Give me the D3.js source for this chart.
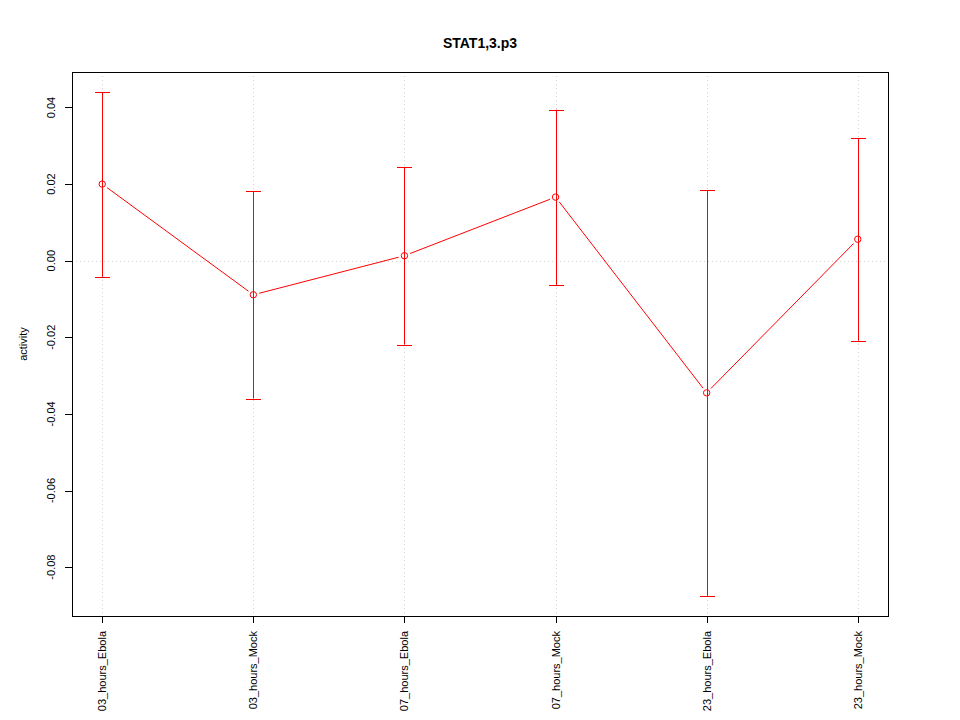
<!DOCTYPE html>
<html>
<head>
<meta charset="utf-8">
<script src="https://cdn.jsdelivr.net/npm/d3@7"></script>
<style>
  body { margin: 0; background: #fff; }
  svg text { font-family: "Liberation Sans", Arial, Helvetica, sans-serif; }
</style>
</head>
<body>
<svg id="chart" width="960" height="720"></svg>
<script>
const categories = ["03_hours_Ebola", "03_hours_Mock", "07_hours_Ebola", "07_hours_Mock", "23_hours_Ebola", "23_hours_Mock"];
const values = [0.0200, -0.0089, 0.0013, 0.0166, -0.0345, 0.0056];
const upper = [0.0440, 0.0181, 0.0245, 0.0394, 0.0184, 0.0320];
const lower = [-0.0042, -0.0360, -0.0219, -0.0064, -0.0875, -0.0209];
const yTicks = [-0.08, -0.06, -0.04, -0.02, 0.00, 0.02, 0.04];
const yTickLabels = ["-0.08", "-0.06", "-0.04", "-0.02", "0.00", "0.02", "0.04"];
const title = "STAT1,3.p3";
const yTitle = "activity";

const svg = d3.select("#chart");
const L = 72, R = 888, T = 72, B = 616;
const red = "#ff0000";

const n = categories.length;
const x = d3.scaleLinear().domain([1 - 0.04 * (n - 1), n + 0.04 * (n - 1)]).range([L, R]);
const yMin = d3.min(lower), yMax = d3.max(upper);
const pad = (yMax - yMin) * 0.04;
const y = d3.scaleLinear().domain([yMin - pad, yMax + pad]).range([B, T]);

// grid
const grid = svg.append("g").attr("stroke", "#d3d3d3").attr("stroke-dasharray", "1,3").attr("stroke-width", 1);
categories.forEach((c, i) => {
  grid.append("line").attr("x1", Math.round(x(i + 1)) + 0.5).attr("x2", Math.round(x(i + 1)) + 0.5)
    .attr("y1", T).attr("y2", B);
});
grid.append("line").attr("x1", L).attr("x2", R)
  .attr("y1", Math.round(y(0)) + 0.5).attr("y2", Math.round(y(0)) + 0.5);

// error bars
const eb = svg.append("g").attr("stroke", red).attr("stroke-width", 1);
categories.forEach((c, i) => {
  const cx = Math.round(x(i + 1)) + 0.5;
  eb.append("line").attr("x1", cx).attr("x2", cx).attr("y1", y(upper[i])).attr("y2", y(lower[i]));
  eb.append("line").attr("x1", cx - 7.5).attr("x2", cx + 7.5).attr("y1", Math.round(y(upper[i])) + 0.5).attr("y2", Math.round(y(upper[i])) + 0.5);
  eb.append("line").attr("x1", cx - 7.5).attr("x2", cx + 7.5).attr("y1", Math.round(y(lower[i])) + 0.5).attr("y2", Math.round(y(lower[i])) + 0.5);
});

// connecting lines with gaps (type "b")
const gap = 6;
const ln = svg.append("g").attr("stroke", red).attr("stroke-width", 1);
for (let i = 0; i < n - 1; i++) {
  const x1 = x(i + 1), y1 = y(values[i]), x2 = x(i + 2), y2 = y(values[i + 1]);
  const dx = x2 - x1, dy = y2 - y1, len = Math.hypot(dx, dy);
  const ux = dx / len, uy = dy / len;
  ln.append("line").attr("x1", x1 + ux * gap).attr("y1", y1 + uy * gap)
    .attr("x2", x2 - ux * gap).attr("y2", y2 - uy * gap);
}

// points
svg.append("g").selectAll("circle").data(values).join("circle")
  .attr("cx", (d, i) => x(i + 1)).attr("cy", d => y(d)).attr("r", 3.2)
  .attr("fill", "none").attr("stroke", red).attr("stroke-width", 1);

// box
svg.append("rect").attr("x", L + 0.5).attr("y", T + 0.5).attr("width", R - L).attr("height", B - T)
  .attr("fill", "none").attr("stroke", "#000").attr("stroke-width", 1);

// y axis
const ya = svg.append("g");
yTicks.forEach((t, i) => {
  const yy = Math.round(y(t)) + 0.5;
  ya.append("line").attr("x1", L - 7).attr("x2", L).attr("y1", yy).attr("y2", yy).attr("stroke", "#000");
  ya.append("text").attr("transform", `translate(55,${y(t)}) rotate(-90)`)
    .attr("text-anchor", "middle").attr("font-size", 11).attr("fill", "#000").text(yTickLabels[i]);
});
ya.append("line").attr("x1", L + 0.5).attr("x2", L + 0.5).attr("y1", y(yTicks[0])).attr("y2", y(yTicks[yTicks.length - 1])).attr("stroke", "#000");

// x axis
const xa = svg.append("g");
categories.forEach((c, i) => {
  const xx = Math.round(x(i + 1)) + 0.5;
  xa.append("line").attr("x1", xx).attr("x2", xx).attr("y1", B).attr("y2", B + 7).attr("stroke", "#000");
  xa.append("text").attr("transform", `translate(${x(i + 1) + 4},631) rotate(-90)`)
    .attr("text-anchor", "end").attr("font-size", 11).attr("fill", "#000").text(c);
});

// titles
svg.append("text").attr("x", (L + R) / 2).attr("y", 48).attr("text-anchor", "middle")
  .attr("font-size", 14).attr("font-weight", "bold").attr("fill", "#000").text(title);
svg.append("text").attr("transform", `translate(27,${(T + B) / 2}) rotate(-90)`)
  .attr("text-anchor", "middle").attr("font-size", 11).attr("fill", "#000").text(yTitle);
</script>
</body>
</html>
